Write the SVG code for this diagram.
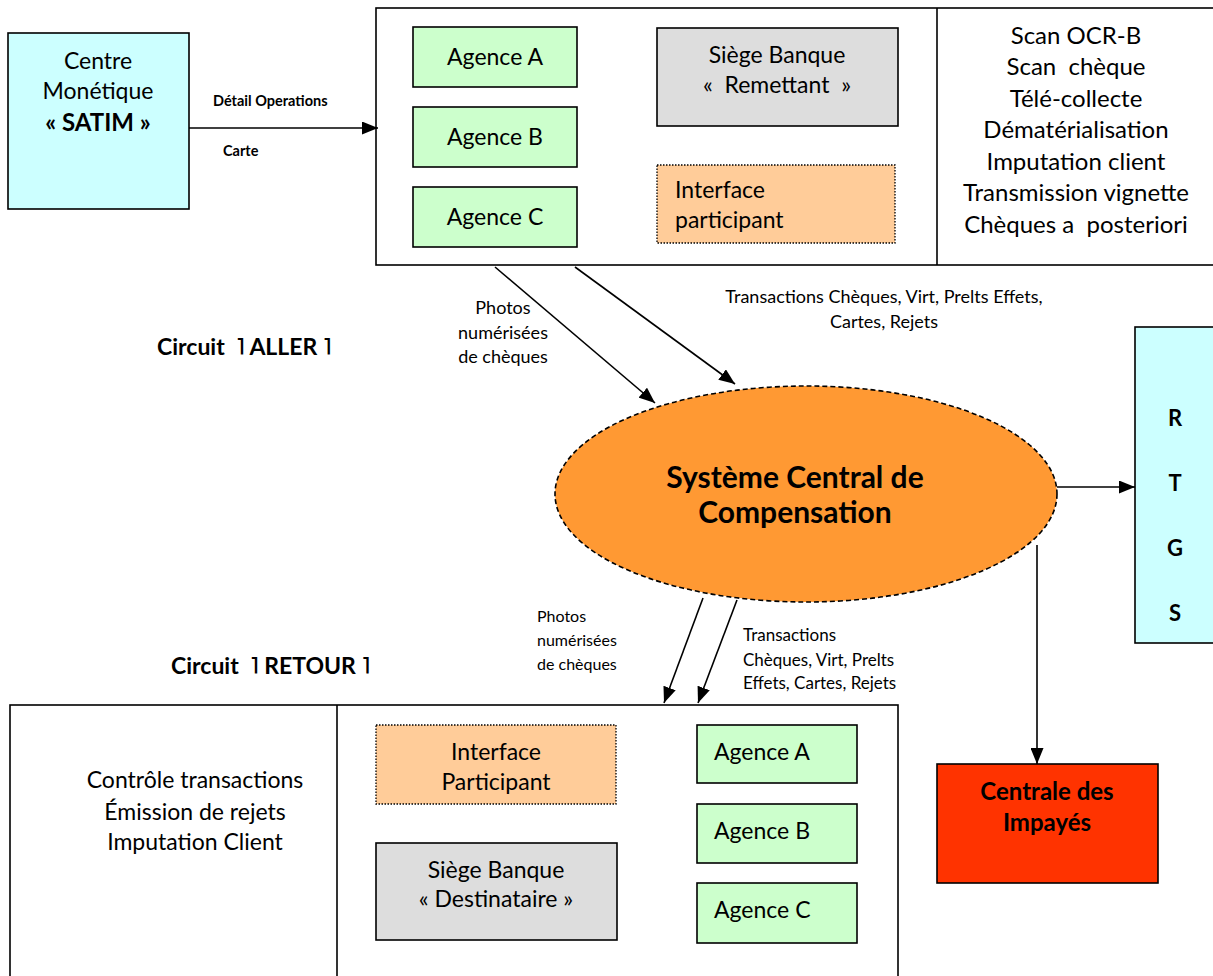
<svg xmlns="http://www.w3.org/2000/svg" width="1213" height="976" viewBox="0 0 1213 976">
<defs>
<marker id="ah" markerUnits="userSpaceOnUse" markerWidth="17" markerHeight="13" refX="16" refY="6.5" orient="auto">
<path d="M0,0 L16,6.5 L0,13 Z" fill="#000"/>
</marker>
<style>
text{font-family:Lato,"Liberation Sans",sans-serif;fill:#000}
.t23{font-size:23px}
.t24{font-size:24px}
.t18{font-size:18px}
.t17{font-size:17px}
.t16{font-size:16px}
.b{font-weight:bold}
.c{text-anchor:middle}
.box{stroke:#000;stroke-width:1.6}
.frame{fill:#fff;stroke:#000;stroke-width:1.6}
.ag{fill:#CCFFCC}
.sg{fill:#DDDDDD}
.itf{fill:#FFCC99;stroke:#000;stroke-width:1.3;stroke-dasharray:1.5 1.5}
.cy{fill:#CCFFFF}
.conn{stroke:#000;stroke-width:1.6;fill:none;marker-end:url(#ah)}
</style>
</defs>
<rect width="1213" height="976" fill="#fff"/>

<g id="centre-monetique">
<rect class="box cy" x="8" y="33" width="181" height="176"/>
<text class="t23 c" x="98" y="69">Centre</text>
<text class="t23 c" x="98" y="99">Monétique</text>
<text class="t24 c b" x="98" y="131">« SATIM »</text>
</g>

<g id="banque-remettant">
<rect class="frame" x="376" y="8" width="840" height="257"/>
<line x1="937" y1="8" x2="937" y2="265" stroke="#000" stroke-width="1.6"/>
</g>
<g id="agence-a-top"><rect class="box ag" x="413" y="27" width="164" height="60"/><text class="t23 c" x="495" y="65">Agence A</text></g>
<g id="agence-b-top"><rect class="box ag" x="413" y="107" width="164" height="60"/><text class="t23 c" x="495" y="145">Agence B</text></g>
<g id="agence-c-top"><rect class="box ag" x="413" y="187" width="164" height="60"/><text class="t23 c" x="495" y="225">Agence C</text></g>
<g id="siege-remettant"><rect class="box sg" x="657" y="28" width="241" height="98"/>
<text class="t23 c" x="777" y="63">Siège Banque</text>
<text class="t23 c" x="777" y="93" xml:space="preserve">«  Remettant  »</text></g>
<g id="interface-top"><rect class="itf" x="657" y="165" width="238" height="78"/>
<text class="t23" x="675" y="198">Interface</text>
<text class="t23" x="675" y="228">participant</text></g>
<g id="fonctions-remettant">
<text class="t24 c" x="1076" y="44">Scan OCR-B</text>
<text class="t24 c" x="1076" y="75" xml:space="preserve">Scan  chèque</text>
<text class="t24 c" x="1076" y="107">Télé-collecte</text>
<text class="t24 c" x="1076" y="138">Dématérialisation</text>
<text class="t24 c" x="1076" y="170">Imputation client</text>
<text class="t24 c" x="1076" y="201">Transmission vignette</text>
<text class="t24 c" x="1076" y="233" xml:space="preserve">Chèques a  posteriori</text>
</g>

<g id="circuit-aller"><text class="t23 b" x="157" y="355" xml:space="preserve">Circuit  ˥ ALLER ˥</text></g>
<g id="circuit-retour"><text class="t23 b" x="171" y="674" xml:space="preserve">Circuit  ˥ RETOUR ˥</text></g>

<g id="scc">
<ellipse cx="806" cy="494" rx="251" ry="108" fill="#FF9933" stroke="#000" stroke-width="1.6" stroke-dasharray="5 3"/>
<text class="c b" x="795" y="488" style="font-size:30px">Système Central de</text>
<text class="c b" x="795" y="523" style="font-size:30px">Compensation</text>
</g>

<g id="rtgs">
<rect class="box cy" x="1135" y="327" width="82" height="316"/>
<text class="b c" x="1175" y="426" style="font-size:22px">R</text>
<text class="b c" x="1175" y="491" style="font-size:22px">T</text>
<text class="b c" x="1175" y="556" style="font-size:22px">G</text>
<text class="b c" x="1175" y="621" style="font-size:22px">S</text>
</g>

<g id="centrale-impayes">
<rect class="box" fill="#FF3300" x="937" y="764" width="221" height="119"/>
<text class="t24 b c" x="1047" y="800">Centrale des</text>
<text class="t24 b c" x="1047" y="831">Impayés</text>
</g>

<g id="banque-destinataire">
<rect class="frame" x="10" y="705" width="888" height="280"/>
<line x1="337" y1="705" x2="337" y2="976" stroke="#000" stroke-width="1.6"/>
<text class="t23 c" x="195" y="788">Contrôle transactions</text>
<text class="t23 c" x="195" y="820">Émission de rejets</text>
<text class="t23 c" x="195" y="850">Imputation Client</text>
</g>
<g id="interface-bottom"><rect class="itf" x="376" y="725" width="240" height="79"/>
<text class="t23 c" x="496" y="760">Interface</text>
<text class="t23 c" x="496" y="790">Participant</text></g>
<g id="siege-destinataire"><rect class="box sg" x="376" y="843" width="241" height="97"/>
<text class="t23 c" x="496" y="878">Siège Banque</text>
<text class="t23 c" x="496" y="907">« Destinataire »</text></g>
<g id="agence-a-bottom"><rect class="box ag" x="697" y="725" width="160" height="58"/><text class="t23" x="714" y="760">Agence A</text></g>
<g id="agence-b-bottom"><rect class="box ag" x="697" y="804" width="160" height="59"/><text class="t23" x="714" y="839">Agence B</text></g>
<g id="agence-c-bottom"><rect class="box ag" x="697" y="883" width="160" height="60"/><text class="t23" x="714" y="918">Agence C</text></g>

<g id="connectors">
<line class="conn" x1="189" y1="128" x2="378" y2="128"/>
<line class="conn" x1="495" y1="267" x2="655" y2="403"/>
<line class="conn" x1="575" y1="267" x2="735" y2="384"/>
<line class="conn" x1="1057" y1="487" x2="1135" y2="487"/>
<line class="conn" x1="1037" y1="545" x2="1037" y2="764"/>
<line class="conn" x1="703" y1="598" x2="664" y2="703"/>
<line class="conn" x1="737" y1="600" x2="698" y2="703"/>
<text class="b" x="213" y="106" style="font-size:14.5px">Détail Operations</text>
<text class="b" x="223" y="156" style="font-size:14.5px">Carte</text>
<text class="t18 c" x="503" y="314">Photos</text>
<text class="t18 c" x="503" y="339">numérisées</text>
<text class="t18 c" x="503" y="363">de chèques</text>
<text class="t18 c" x="884" y="303">Transactions Chèques, Virt, Prelts Effets,</text>
<text class="t18 c" x="884" y="328">Cartes, Rejets</text>
<text class="t16" x="537" y="622">Photos</text>
<text class="t16" x="537" y="646">numérisées</text>
<text class="t16" x="537" y="670">de chèques</text>
<text class="t17" x="743" y="641">Transactions</text>
<text class="t17" x="743" y="666">Chèques, Virt, Prelts</text>
<text class="t17" x="743" y="689">Effets, Cartes, Rejets</text>
</g>
</svg>
